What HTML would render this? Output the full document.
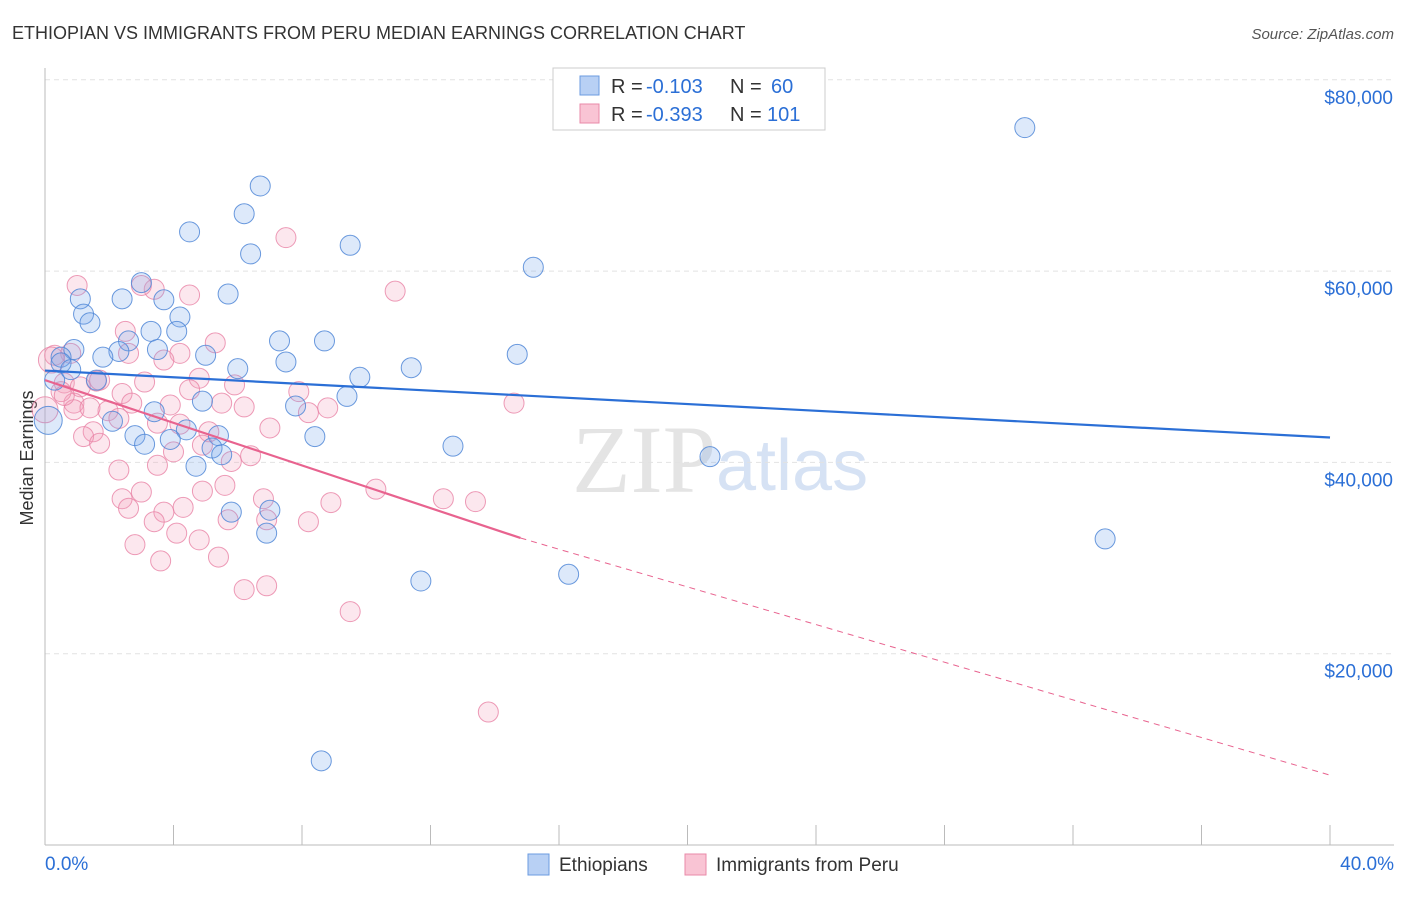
<!DOCTYPE html>
<html><head><meta charset="utf-8"><style>
body{margin:0;background:#fff;font-family:"Liberation Sans",sans-serif;}
#wrap{position:relative;width:1406px;height:892px;}
</style></head><body>
<div id="wrap">
<svg id="svg" width="1406" height="892" xmlns="http://www.w3.org/2000/svg">
<text x="12" y="39" font-size="18" fill="#333">ETHIOPIAN VS IMMIGRANTS FROM PERU MEDIAN EARNINGS CORRELATION CHART</text>
<text x="1394" y="39" font-size="15" fill="#555" font-style="italic" text-anchor="end">Source: ZipAtlas.com</text>
<text x="33" y="458" font-size="18" fill="#333" text-anchor="middle" transform="rotate(-90 33 458)">Median Earnings</text>
<text x="716" y="492" font-size="96" fill="#e4e4e4" text-anchor="end" font-family="Liberation Serif">ZIP</text>
<text x="716" y="490" font-size="72" fill="#d6e2f4">atlas</text>
<g id="grid"></g><g id="axes"></g><g id="pink"></g><g id="blue"></g><g id="lines"></g>
<g>
<rect x="553" y="68" width="272" height="62" fill="#fff" stroke="#ccc"/>
<rect x="580" y="76" width="19" height="19" fill="#b8d0f4" stroke="#6b9be0"/>
<rect x="580" y="104" width="19" height="19" fill="#f9c4d4" stroke="#e98aa8"/>
<text x="611" y="93" font-size="20" fill="#333">R =</text>
<text x="646" y="93" font-size="20" fill="#2b6fd6">-0.103</text>
<text x="730" y="93" font-size="20" fill="#333">N =</text>
<text x="771" y="93" font-size="20" fill="#2b6fd6">60</text>
<text x="611" y="121" font-size="20" fill="#333">R =</text>
<text x="646" y="121" font-size="20" fill="#2b6fd6">-0.393</text>
<text x="730" y="121" font-size="20" fill="#333">N =</text>
<text x="767" y="121" font-size="20" fill="#2b6fd6">101</text>
</g>
<rect x="528" y="854" width="21" height="21" fill="#b8d0f4" stroke="#6b9be0"/>
<text x="559" y="871" font-size="19" fill="#333">Ethiopians</text>
<rect x="685" y="854" width="21" height="21" fill="#f9c4d4" stroke="#e98aa8"/>
<text x="716" y="871" font-size="19" fill="#333">Immigrants from Peru</text>
</svg></div>
<script>
const yTicks=[20000,40000,60000,80000];
const yTickLabels=["$20,000","$40,000","$60,000","$80,000"];
const xTickLabels=["0.0%","40.0%"];
const blueX=[30.5,6.7,6.2,4.5,9.5,6.4,15.2,3.0,5.7,1.1,2.4,3.7,1.2,4.2,1.4,3.3,4.1,2.6,7.3,8.7,0.9,3.5,2.3,1.8,5.0,14.7,0.5,7.5,11.4,6.0,0.5,9.8,1.6,9.4,4.9,7.8,3.4,2.1,4.4,2.8,3.9,8.4,5.4,12.7,3.1,5.2,5.5,4.7,20.7,0.1,5.8,7.0,6.9,33.0,16.3,11.7,8.6,0.3,0.8];
const blueY=[75000,68900,66000,64100,62700,61800,60400,58800,57600,57100,57100,57000,55500,55200,54600,53700,53700,52700,52700,52700,51800,51800,51600,51000,51200,51300,51000,50500,49900,49800,50400,48900,48600,46900,46400,45900,45300,44300,43400,42800,42400,42700,42800,41700,41900,41500,40800,39600,40600,44400,34800,35000,32600,32000,28300,27600,8800,48600,49700];
const pinkX=[7.5,10.9,1.0,3.4,4.5,3.0,2.5,5.3,2.6,4.2,0.3,0.8,3.7,5.9,4.8,3.1,1.6,0.6,1.1,7.9,4.5,2.4,0.9,14.6,5.5,6.2,2.7,3.9,8.8,8.2,1.96,0.9,1.4,3.5,2.3,4.2,7.0,1.5,5.1,1.2,1.7,4.9,4.0,6.4,5.8,3.5,2.3,10.3,5.6,4.9,3.0,6.8,2.4,12.4,13.4,8.9,4.3,2.6,3.7,5.7,6.9,3.4,8.2,4.1,4.8,2.8,5.4,3.6,6.9,6.2,9.5,13.8,0.0,0.2,0.5,0.6,1.7];
const pinkY=[63500,57900,58500,58100,57500,58500,53700,52500,51400,51400,51200,51400,50700,48100,48800,48400,48500,48300,47900,47400,47600,47200,46200,46200,46200,45800,46200,46000,45700,45200,45400,45500,45700,44100,44600,44000,43600,43200,43200,42700,42000,41800,41100,40700,40100,39700,39200,37200,37600,37000,36900,36200,36200,36200,35900,35800,35300,35200,34800,34000,34000,33800,33800,32600,31900,31400,30100,29700,27100,26700,24400,13900,45500,50700,47400,47000,48600];
const blueTrend=[49600,42600];
const pinkTrend=[48600,32100,7300];
const pinkSolidEnd=14.8;
const NS="http://www.w3.org/2000/svg";
const X=v=>45+v*32.125, Y=v=>845-v*0.009565;
function mk(t,a,p){const e=document.createElementNS(NS,t);for(const k in a)e.setAttribute(k,a[k]);p.appendChild(e);return e;}
const grid=document.getElementById('grid'),axes=document.getElementById('axes');
yTicks.forEach((t,i)=>{
 const l=mk('line',{x1:45,x2:1394,y1:Y(t),y2:Y(t),stroke:'#e2e2e2','stroke-dasharray':'5,4'},grid);
 
 const tx=mk('text',{x:1393,y:Y(t)+24,'font-size':19,fill:'#2b6fd6','text-anchor':'end'},axes);
 tx.textContent=yTickLabels[i];
 
});
const ax=mk('line',{x1:45,x2:1394,y1:845,y2:845,stroke:'#bbb'},axes);

const ay=mk('line',{x1:45,x2:45,y1:68,y2:845,stroke:'#bbb'},axes);

for(let i=0;i<=10;i++){const t=mk('line',{x1:X(i*4),x2:X(i*4),y1:825,y2:845,stroke:'#bbb'},axes);
 }
[[0,'start',45],[1,'end',1394]].forEach(([i,a,x])=>{const t=mk('text',{x:x,y:870,'font-size':19,fill:'#2b6fd6','text-anchor':a},axes);
 t.textContent=xTickLabels[i];});
const pg=document.getElementById('pink'),bg=document.getElementById('blue');
pinkX.forEach((v,i)=>{const c=mk('circle',{cx:X(v),cy:Y(pinkY[i]),r:v<0.3?13:10,fill:'rgba(244,160,188,0.25)',stroke:'rgba(232,130,165,0.8)','stroke-width':1},pg);
 });
blueX.forEach((v,i)=>{const c=mk('circle',{cx:X(v),cy:Y(blueY[i]),r:v<0.3?14:10,fill:'rgba(120,168,235,0.25)',stroke:'rgba(80,135,215,0.85)','stroke-width':1},bg);
 });
const lg=document.getElementById('lines');
const bl=mk('line',{x1:X(0),y1:Y(blueTrend[0]),x2:X(40),y2:Y(blueTrend[1]),stroke:'#2b6fd6','stroke-width':2.2},lg);

const pl=mk('line',{x1:X(0),y1:Y(pinkTrend[0]),x2:X(pinkSolidEnd),y2:Y(pinkTrend[1]),stroke:'#e8638f','stroke-width':2.2},lg);

const pd=mk('line',{x1:X(pinkSolidEnd),y1:Y(pinkTrend[1]),x2:X(40),y2:Y(pinkTrend[2]),stroke:'#e8638f','stroke-width':1,'stroke-dasharray':'6,5'},lg);

</script>
</body></html>
